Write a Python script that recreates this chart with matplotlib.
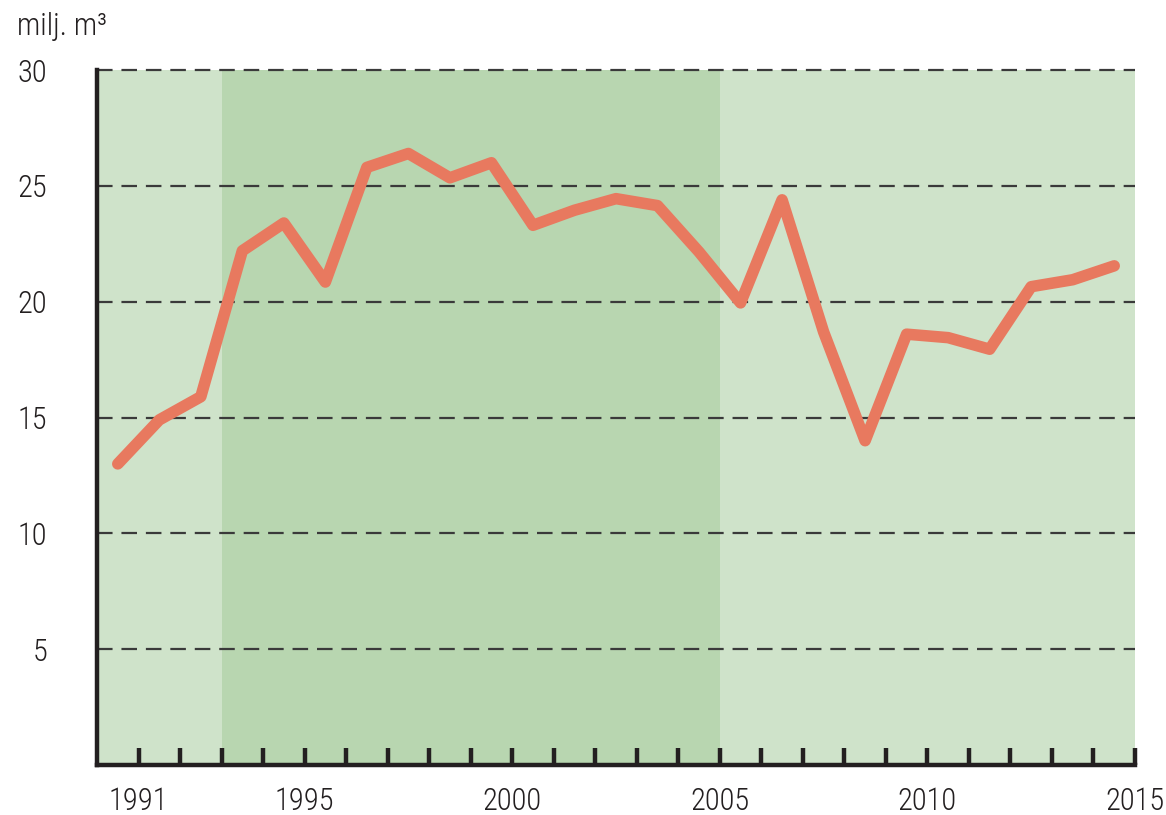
"""Line chart: annual volume (milj. m3), 1991-2015."""

import matplotlib

matplotlib.use("Agg")
import matplotlib.pyplot as plt

YEARS = list(range(1991, 2016))
VALUES = [
    13.0, 14.9, 15.9, 22.2, 23.4, 20.85, 25.8, 26.4, 25.35, 26.0,
    23.3, 23.95, 24.45, 24.15, 22.15, 19.95, 24.4, 18.7, 14.0, 18.6,
    18.45, 17.95, 20.65, 20.95, 21.55,
]
BAND = (1993, 2005)
Y_TICKS = [5, 10, 15, 20, 25, 30]
X_LABELS = [1991, 1995, 2000, 2005, 2010, 2015]

INK = "#231f20"
LIGHT = "#cfe3ca"
DARK = "#b8d6b0"
LINE = "#e8795f"

plt.rcParams["font.family"] = ["Roboto Condensed", "Liberation Sans Narrow", "DejaVu Sans"]
plt.rcParams["font.weight"] = "light"

fig = plt.figure(figsize=(11.66, 8.15), dpi=100)
ax = fig.add_axes([0.0832, 0.0613, 0.8902, 0.8527])

ax.set_xlim(YEARS[0] - 1, YEARS[-1])
ax.set_ylim(0, 30)
ax.set_facecolor(LIGHT)
ax.axvspan(*BAND, color=DARK, lw=0, zorder=0)

for y in Y_TICKS:
    ax.axhline(y, color="#3a3a3a", lw=1.6, ls=(0, (7, 4)), zorder=1, clip_on=False)

# each year's value sits in the middle of its year interval
x = [yr - 0.5 for yr in YEARS]
ax.plot(x, VALUES, color=LINE, lw=8.3, solid_capstyle="round",
        solid_joinstyle="round", zorder=3)

for side in ("top", "right"):
    ax.spines[side].set_visible(False)
for side in ("left", "bottom"):
    ax.spines[side].set_color(INK)
    ax.spines[side].set_linewidth(3.2)
    ax.spines[side].set_zorder(4)

ax.set_xticks(YEARS, [str(y) if y in X_LABELS else "" for y in YEARS])
ax.tick_params(axis="x", direction="in", length=12, width=3.2, color=INK,
               labelsize=22, labelcolor=INK, pad=16)
ax.set_yticks(Y_TICKS, [str(y) for y in Y_TICKS])
ax.tick_params(axis="y", length=0, labelsize=22, labelcolor=INK, pad=36)

fig.text(0.015, 0.968, "milj. m³", fontsize=22, color=INK, va="center", ha="left")

fig.savefig("out.png", dpi=100)
